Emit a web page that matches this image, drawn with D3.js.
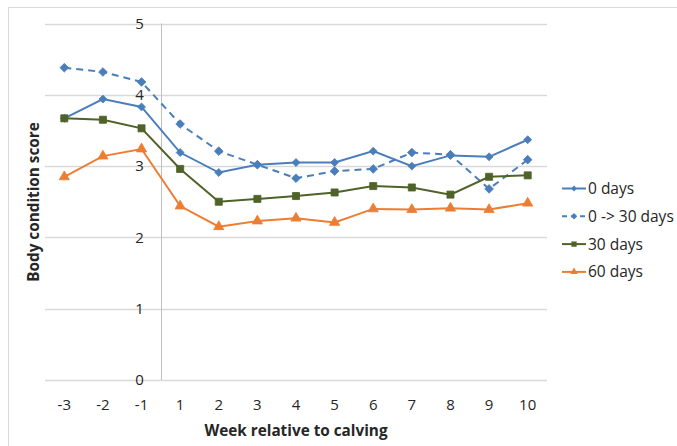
<!DOCTYPE html>
<html>
<head>
<meta charset="utf-8">
<script src="https://cdn.jsdelivr.net/npm/d3@7"></script>
<style>
  body { margin: 0; background: #fff; }
  svg { display: block; font-family: "Open Sans", "Liberation Sans", sans-serif; }
</style>
</head>
<body>
<div id="chart"></div>
<script>
const weeks = ["-3", "-2", "-1", "1", "2", "3", "4", "5", "6", "7", "8", "9", "10"];
const yTicks = [0, 1, 2, 3, 4, 5];
const seriesNames = ["0 days", "0 -> 30 days", "30 days", "60 days"];
const days0 = [3.67, 3.94, 3.83, 3.19, 2.91, 3.02, 3.05, 3.05, 3.21, 3.00, 3.15, 3.13, 3.37];
const days0to30 = [4.38, 4.32, 4.18, 3.59, 3.21, 3.02, 2.83, 2.93, 2.96, 3.19, 3.16, 2.68, 3.09];
const days30 = [3.67, 3.65, 3.53, 2.96, 2.50, 2.54, 2.58, 2.63, 2.72, 2.70, 2.60, 2.85, 2.87];
const days60 = [2.85, 3.14, 3.24, 2.44, 2.15, 2.23, 2.27, 2.21, 2.40, 2.39, 2.41, 2.39, 2.48];

const series = [
  { name: seriesNames[0], values: days0, color: "#4a7ebb", dash: null, symbol: d3.symbolDiamond2, size: 40 },
  { name: seriesNames[1], values: days0to30, color: "#4a7ebb", dash: "7,5", symbol: d3.symbolDiamond2, size: 48 },
  { name: seriesNames[2], values: days30, color: "#4f6228", dash: null, symbol: d3.symbolSquare, size: 50 },
  { name: seriesNames[3], values: days60, color: "#ed7d31", dash: null, symbol: d3.symbolTriangle, size: 45 }
];

const width = 677, height = 446;
const plot = { left: 45, right: 547, top: 23.5, bottom: 380 };

const svg = d3.select("#chart").append("svg")
  .attr("width", width)
  .attr("height", height);

// chart frame
svg.append("rect")
  .attr("x", 8.5).attr("y", 7.5)
  .attr("width", 700).attr("height", 500)
  .attr("fill", "none")
  .attr("stroke", "#d9d9d9");

const x = d3.scaleBand()
  .domain(weeks)
  .range([plot.left, plot.right])
  .padding(0);

const y = d3.scaleLinear()
  .domain([0, 5])
  .range([plot.bottom, plot.top]);

const cx = w => x(w) + x.bandwidth() / 2;

// gridlines
svg.append("g")
  .selectAll("line")
  .data(yTicks)
  .join("line")
  .attr("x1", plot.left).attr("x2", plot.right)
  .attr("y1", d => Math.round(y(d)) + 0.5)
  .attr("y2", d => Math.round(y(d)) + 0.5)
  .attr("stroke", "#d9d9d9")
  .attr("stroke-width", 1.3);

// vertical axis crosses between -1 and 1
const axisX = x("1");
svg.append("line")
  .attr("x1", Math.round(axisX) + 0.5).attr("x2", Math.round(axisX) + 0.5)
  .attr("y1", plot.top).attr("y2", plot.bottom)
  .attr("stroke", "#bfbfbf");

// y tick labels
svg.append("g")
  .selectAll("text")
  .data(yTicks)
  .join("text")
  .attr("x", axisX - 17)
  .attr("y", d => y(d))
  .attr("dy", "0.35em")
  .attr("text-anchor", "end")
  .attr("font-size", 15)
  .attr("fill", "#262626")
  .text(d => d);

// x tick labels
svg.append("g")
  .selectAll("text")
  .data(weeks)
  .join("text")
  .attr("x", d => cx(d))
  .attr("y", 409.5)
  .attr("text-anchor", "middle")
  .attr("font-size", 15)
  .attr("fill", "#262626")
  .text(d => d);

// axis titles
svg.append("text")
  .attr("x", 296)
  .attr("y", 435.5)
  .attr("text-anchor", "middle")
  .attr("font-size", 15.3)
  .attr("font-weight", "bold")
  .attr("fill", "#262626")
  .text("Week relative to calving");

svg.append("text")
  .attr("transform", "rotate(-90)")
  .attr("x", -202)
  .attr("y", 39)
  .attr("text-anchor", "middle")
  .attr("font-size", 15.3)
  .attr("font-weight", "bold")
  .attr("fill", "#262626")
  .text("Body condition score");

const line = d3.line()
  .x((d, i) => cx(weeks[i]))
  .y(d => y(d));

series.forEach(s => {
  svg.append("path")
    .datum(s.values)
    .attr("fill", "none")
    .attr("stroke", s.color)
    .attr("stroke-width", 2)
    .attr("stroke-dasharray", s.dash)
    .attr("d", line);

  svg.append("g")
    .selectAll("path")
    .data(s.values)
    .join("path")
    .attr("transform", (d, i) => `translate(${cx(weeks[i])},${y(d)})`)
    .attr("d", d3.symbol(s.symbol, s.size))
    .attr("fill", s.color)
    .attr("stroke", s.color)
    .attr("stroke-width", 0.8);
});

// legend
const legend = svg.append("g")
  .selectAll("g")
  .data(series)
  .join("g")
  .attr("transform", (d, i) => `translate(562,${188.5 + i * 27.8})`);

legend.append("line")
  .attr("x1", 0).attr("x2", 24)
  .attr("stroke", d => d.color)
  .attr("stroke-width", 2)
  .attr("stroke-dasharray", d => d.dash ? "5,4" : null);

legend.append("path")
  .attr("transform", "translate(12,0)")
  .attr("d", d => d3.symbol(d.symbol, d.size * 0.55)())
  .attr("fill", d => d.color);

legend.append("text")
  .attr("x", 26)
  .attr("dy", "0.35em")
  .attr("font-size", 15.5)
  .attr("fill", "#262626")
  .text(d => d.name);
</script>
</body>
</html>
